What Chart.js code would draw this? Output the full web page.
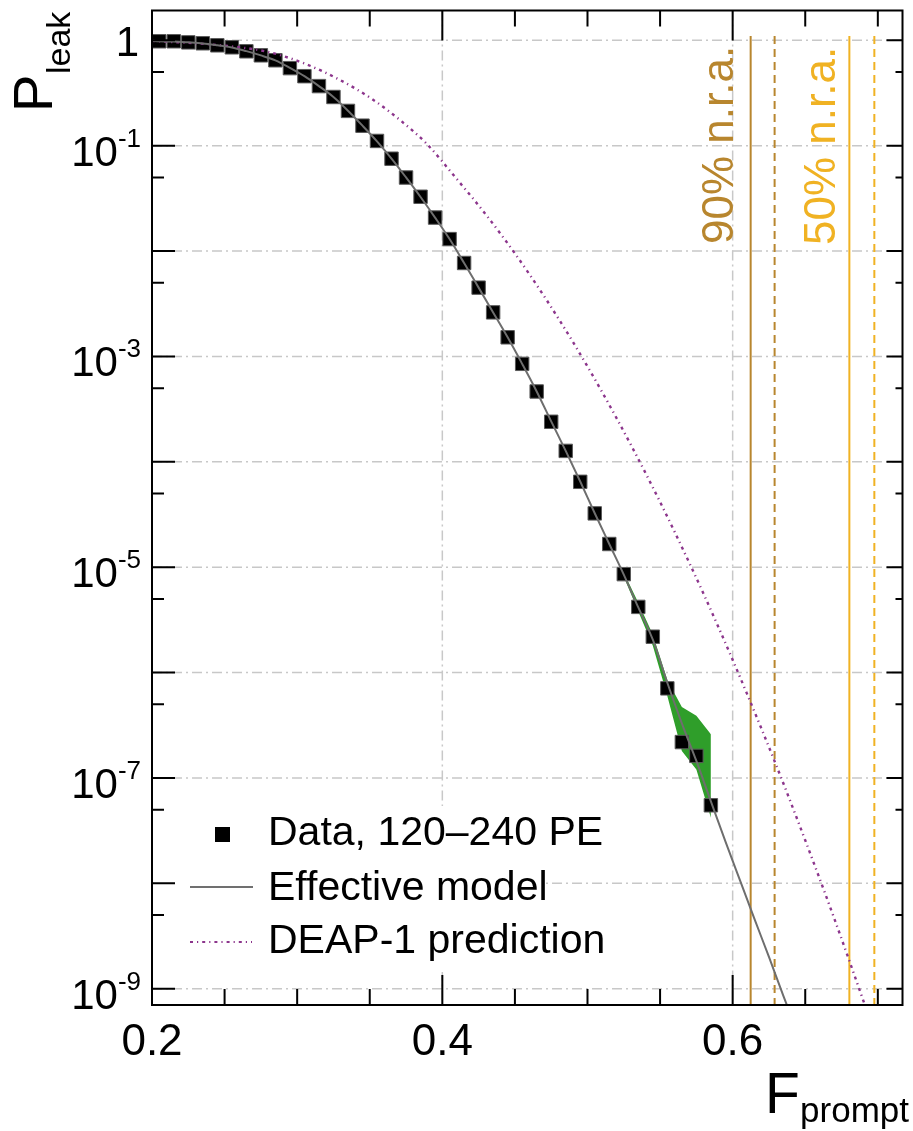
<!DOCTYPE html>
<html>
<head>
<meta charset="utf-8">
<script src="https://cdn.jsdelivr.net/npm/chart.js@4.4.0/dist/chart.umd.min.js"></script>
<style>
  html, body { margin: 0; padding: 0; background: #fff; }
  #wrap { width: 913px; height: 1131px; }
</style>
</head>
<body>
<div id="wrap"><canvas id="leakChart" width="913" height="1131"></canvas></div>
<script>
// measured leakage probability, bin centres in Fprompt
var binF = [0.205, 0.215, 0.225, 0.235, 0.245, 0.255, 0.265, 0.275, 0.285, 0.295,
            0.305, 0.315, 0.325, 0.335, 0.345, 0.355, 0.365, 0.375, 0.385, 0.395,
            0.405, 0.415, 0.425, 0.435, 0.445, 0.455, 0.465, 0.475, 0.485, 0.495,
            0.505, 0.515, 0.525, 0.535, 0.545, 0.555, 0.565, 0.575, 0.585];
var dataP = [0.98, 0.98, 0.957, 0.938, 0.897, 0.859, 0.787, 0.721, 0.647, 0.545,
             0.457, 0.368, 0.290, 0.214, 0.155, 0.111, 0.0753, 0.0499, 0.0328, 0.0208,
             0.0130, 7.71e-3, 4.50e-3, 2.62e-3, 1.52e-3, 8.51e-4, 4.65e-4, 2.40e-4, 1.27e-4, 6.46e-5,
             3.24e-5, 1.66e-5, 8.59e-6, 4.20e-6, 2.19e-6, 7.08e-7, 2.19e-7, 1.62e-7, 5.50e-8];

// effective model curve
var modelF = [0.200, 0.205, 0.215, 0.225, 0.235, 0.245, 0.255, 0.265, 0.275, 0.285,
              0.295, 0.305, 0.315, 0.325, 0.335, 0.345, 0.355, 0.365, 0.375, 0.385,
              0.395, 0.405, 0.415, 0.425, 0.435, 0.445, 0.455, 0.465, 0.475, 0.485,
              0.495, 0.505, 0.515, 0.525, 0.535, 0.545, 0.555, 0.565, 0.575, 0.585,
              0.595, 0.605, 0.615, 0.625, 0.635, 0.645];
var modelP = [0.99, 0.98, 0.975, 0.957, 0.935, 0.898, 0.857, 0.79, 0.72, 0.645,
              0.548, 0.457, 0.368, 0.29, 0.215, 0.155, 0.110, 0.0755, 0.0500, 0.0326,
              0.0208, 0.0130, 7.7e-3, 4.5e-3, 2.62e-3, 1.52e-3, 8.5e-4, 4.65e-4, 2.42e-4, 1.27e-4,
              6.5e-5, 3.25e-5, 1.66e-5, 8.5e-6, 4.15e-6, 2.05e-6, 8.0e-7, 3.3e-7, 1.45e-7, 6.0e-8,
              2.5e-8, 1.07e-8, 4.6e-9, 2.0e-9, 8.5e-10, 3.7e-10];

// DEAP-1 prediction
var deapF = [0.200, 0.250, 0.280, 0.305, 0.330, 0.352, 0.372, 0.389, 0.410, 0.430,
             0.450, 0.470, 0.490, 0.510, 0.530, 0.550, 0.570, 0.590, 0.610, 0.630,
             0.650, 0.670, 0.690, 0.700];
var deapP = [0.99, 0.89, 0.776, 0.603, 0.417, 0.275, 0.170, 0.105, 0.0482, 0.0222,
             9.5e-3, 3.75e-3, 1.37e-3, 4.61e-4, 1.44e-4, 4.16e-5, 1.11e-5, 2.74e-6, 6.24e-7, 1.32e-7,
             2.56e-8, 4.63e-9, 7.7e-10, 3.06e-10];

// green uncertainty band of the model
var bandF = [0.525, 0.535, 0.545, 0.555, 0.565, 0.575, 0.585];
var bandHi = [8.9e-6, 4.6e-6, 2.3e-6, 8.5e-7, 4.7e-7, 3.9e-7, 2.6e-7];
var bandLo = [8.1e-6, 3.8e-6, 1.8e-6, 6.0e-7, 1.8e-7, 1.2e-7, 4.2e-8];

// nuclear recoil acceptance cuts: 90% solid, 90% dashed, 50% solid, 50% dashed
var cutF = [0.6124, 0.6289, 0.6804, 0.6976];
var cutTop = 1.1;

// axes
var xTicks = [0.2, 0.25, 0.3, 0.35, 0.4, 0.45, 0.5, 0.55, 0.6, 0.65, 0.7];
var xLabels = ['0.2', '0.4', '0.6'];
var xLabelPos = [0.2, 0.4, 0.6];
var yDecades = [1, 1e-1, 1e-2, 1e-3, 1e-4, 1e-5, 1e-6, 1e-7, 1e-8, 1e-9];
var yHalf = [0.5, 5e-2, 5e-3, 5e-4, 5e-5, 5e-6, 5e-7, 5e-8, 5e-9];
var yLabelPos = [1, 1e-1, 1e-3, 1e-5, 1e-7, 1e-9];
var yLabelExp = ['', '-1', '-3', '-5', '-7', '-9'];

var FONT = '"Liberation Sans", Arial, Helvetica, sans-serif';
var GOLD_DARK = '#b8862e';
var GOLD = '#f0b223';
var PURPLE = '#8c358c';
var DEAP_DASH = [3, 4, 1.2, 4];

function pts(xs, ys) {
    return xs.map(function (x, i) { return {x: x, y: ys[i]}; });
}

function rotText(ctx, str, x, y, size, color) {
    ctx.save();
    ctx.translate(x, y);
    ctx.rotate(-Math.PI / 2);
    ctx.font = size + 'px ' + FONT;
    ctx.fillStyle = color;
    ctx.textAlign = 'left';
    ctx.textBaseline = 'alphabetic';
    ctx.fillText(str, 0, 0);
    ctx.restore();
}

// grid under the data, frame/ticks/labels/legend on top
var decorations = {
    id: 'decorations',
    beforeDatasetsDraw: function (chart) {
        var ctx = chart.ctx, a = chart.chartArea;
        var xs = chart.scales.x, ys = chart.scales.y;
        ctx.save();
        ctx.strokeStyle = '#c8c8c8';
        ctx.lineWidth = 1.5;
        ctx.setLineDash([10, 4, 2, 4]);
        yDecades.forEach(function (v) {
            var py = ys.getPixelForValue(v);
            ctx.beginPath(); ctx.moveTo(a.left, py); ctx.lineTo(a.right, py); ctx.stroke();
        });
        [0.4, 0.6].forEach(function (v) {
            var px = xs.getPixelForValue(v);
            ctx.beginPath(); ctx.moveTo(px, a.top); ctx.lineTo(px, a.bottom); ctx.stroke();
        });
        ctx.setLineDash([]);
        // legend background
        ctx.fillStyle = '#fff';
        ctx.fillRect(a.left + 2, 806, 390, 166);
        ctx.restore();
    },
    afterDatasetsDraw: function (chart) {
        var ctx = chart.ctx, a = chart.chartArea;
        var xs = chart.scales.x, ys = chart.scales.y;
        ctx.save();
        ctx.strokeStyle = '#000';
        ctx.lineWidth = 2;
        ctx.strokeRect(a.left, a.top, a.right - a.left, a.bottom - a.top);

        // x ticks, bottom and top
        ctx.beginPath();
        xTicks.forEach(function (v) {
            var px = xs.getPixelForValue(v);
            var len = xLabelPos.indexOf(v) >= 0 ? 30 : 16;
            ctx.moveTo(px, a.bottom); ctx.lineTo(px, a.bottom - len);
            ctx.moveTo(px, a.top); ctx.lineTo(px, a.top + len);
        });
        // y ticks, left and right
        yDecades.forEach(function (v) {
            var py = ys.getPixelForValue(v);
            ctx.moveTo(a.left, py); ctx.lineTo(a.left + 23, py);
            ctx.moveTo(a.right, py); ctx.lineTo(a.right - 16, py);
        });
        yHalf.forEach(function (v) {
            var py = ys.getPixelForValue(v);
            ctx.moveTo(a.left, py); ctx.lineTo(a.left + 12, py);
            ctx.moveTo(a.right, py); ctx.lineTo(a.right - 7, py);
        });
        ctx.stroke();

        ctx.fillStyle = '#000';
        ctx.textBaseline = 'alphabetic';
        // x tick labels
        ctx.font = '44px ' + FONT;
        ctx.textAlign = 'center';
        xLabels.forEach(function (t, i) {
            ctx.fillText(t, xs.getPixelForValue(xLabelPos[i]), 1055);
        });
        // y tick labels
        ctx.textAlign = 'right';
        yLabelPos.forEach(function (v, i) {
            var py = ys.getPixelForValue(v);
            var exp = yLabelExp[i];
            if (!exp) {
                ctx.font = '42px ' + FONT;
                ctx.fillText('1', 139, py + 16);
                return;
            }
            ctx.font = '26px ' + FONT;
            var w = ctx.measureText(exp).width;
            ctx.fillText(exp, 141, py + 1);
            ctx.font = '42px ' + FONT;
            ctx.fillText('10', 141 - w, py + 20);
        });

        // axis titles
        ctx.textAlign = 'left';
        ctx.font = '57px ' + FONT;
        ctx.fillText('F', 765, 1113);
        ctx.font = '35px ' + FONT;
        ctx.textAlign = 'right';
        ctx.fillText('prompt', 909, 1122);
        rotText(ctx, 'P', 52, 112, 56, '#000');
        rotText(ctx, 'leak', 70, 74, 34, '#000');

        // cut labels
        rotText(ctx, '90% n.r.a.', 733, 244, 44, GOLD_DARK);
        rotText(ctx, '50% n.r.a.', 835, 245, 44, GOLD);

        // legend
        ctx.fillStyle = '#000';
        ctx.fillRect(215, 827, 15, 15);
        ctx.lineWidth = 2;
        ctx.strokeStyle = '#707070';
        ctx.beginPath(); ctx.moveTo(190, 887); ctx.lineTo(253, 887); ctx.stroke();
        ctx.strokeStyle = PURPLE;
        ctx.setLineDash(DEAP_DASH);
        ctx.beginPath(); ctx.moveTo(190, 942); ctx.lineTo(252, 942); ctx.stroke();
        ctx.setLineDash([]);
        ctx.font = '41px ' + FONT;
        ctx.textAlign = 'left';
        ctx.fillStyle = '#000';
        ctx.fillText('Data, 120\u2013240 PE', 268, 845);
        ctx.fillText('Effective model', 268, 900);
        ctx.fillText('DEAP-1 prediction', 268, 953);
        ctx.restore();
    }
};

var cutStyles = [
    {color: GOLD_DARK, dash: []},
    {color: GOLD_DARK, dash: [8, 5]},
    {color: GOLD, dash: []},
    {color: GOLD, dash: [8, 5]}
];
var cutSets = cutF.map(function (c, i) {
    return {
        label: 'cut' + i,
        data: [{x: c, y: cutTop}, {x: c, y: 1e-10}],
        borderColor: cutStyles[i].color,
        borderDash: cutStyles[i].dash,
        borderWidth: 2,
        pointRadius: 0,
        order: 5
    };
});

var ctx = document.getElementById('leakChart').getContext('2d');
var myChart = new Chart(ctx, {
    type: 'line',
    data: {
        datasets: [{
            label: 'Effective model',
            data: pts(modelF, modelP),
            borderColor: '#6e6e6e',
            borderWidth: 2,
            pointRadius: 0,
            cubicInterpolationMode: 'monotone',
            order: 0
        }, {
            label: 'DEAP-1 prediction',
            data: pts(deapF, deapP),
            borderColor: PURPLE,
            borderWidth: 2.4,
            borderDash: DEAP_DASH,
            pointRadius: 0,
            cubicInterpolationMode: 'monotone',
            order: 1
        }, {
            label: 'Data, 120-240 PE',
            data: pts(binF, dataP),
            showLine: false,
            pointStyle: 'rect',
            pointRadius: 9.5,
            backgroundColor: '#000',
            borderColor: '#5a5a5a',
            borderWidth: 1,
            order: 2
        }, {
            label: 'band hi',
            data: pts(bandF, bandHi),
            borderWidth: 0,
            borderColor: 'rgba(0,0,0,0)',
            backgroundColor: '#2f9e2a',
            pointRadius: 0,
            fill: '+1',
            order: 3
        }, {
            label: 'band lo',
            data: pts(bandF, bandLo),
            borderWidth: 0,
            borderColor: 'rgba(0,0,0,0)',
            pointRadius: 0,
            fill: false,
            order: 4
        }].concat(cutSets)
    },
    options: {
        responsive: false,
        animation: false,
        layout: {
            padding: {left: 152, right: 8, top: 7, bottom: 126}
        },
        plugins: {
            legend: {display: false},
            tooltip: {enabled: false}
        },
        scales: {
            x: {
                type: 'linear',
                min: 0.2,
                max: 0.717,
                display: false
            },
            y: {
                type: 'logarithmic',
                min: 7.22e-10,
                max: 1.92,
                display: false
            }
        }
    },
    plugins: [decorations]
});
</script>
</body>
</html>
